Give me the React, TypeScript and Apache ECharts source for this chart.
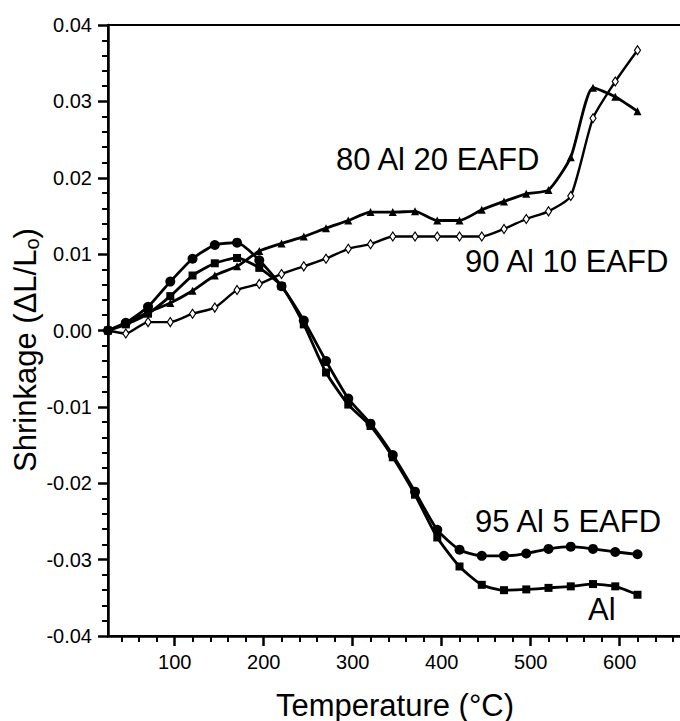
import React, { useEffect, useRef } from 'react';
import * as echarts from 'echarts';

const FONT = '"Liberation Sans", Arial, Helvetica, sans-serif';

// Temperatures (°C) of the measured points
const temps = [25, 45, 70, 95, 120, 145, 170, 195, 220, 245, 270, 295, 320, 345, 370, 395, 420, 445, 470, 495, 520, 545, 570, 595, 620];

// Shrinkage (ΔL/Lo) per composition
const alPure = [0, 0.0008, 0.0022, 0.0045, 0.0072, 0.0088, 0.0095, 0.0082, 0.0058, 0.0008, -0.0055, -0.0097, -0.0125, -0.0166, -0.0215, -0.0271, -0.0309, -0.0333, -0.034, -0.0339, -0.0337, -0.0335, -0.0332, -0.0335, -0.0346];
const al95 = [0, 0.001, 0.0031, 0.0064, 0.0094, 0.0112, 0.0115, 0.0092, 0.0058, 0.0013, -0.004, -0.0089, -0.0122, -0.0163, -0.0211, -0.0261, -0.0287, -0.0295, -0.0295, -0.0292, -0.0286, -0.0283, -0.0286, -0.029, -0.0293];
const al90 = [0, -0.0004, 0.0011, 0.0011, 0.0022, 0.003, 0.0053, 0.0061, 0.0074, 0.0084, 0.0094, 0.0107, 0.0113, 0.0123, 0.0123, 0.0123, 0.0123, 0.0123, 0.0133, 0.0146, 0.0156, 0.0176, 0.0278, 0.0326, 0.0367];
const al80 = [0, 0.001, 0.0024, 0.0036, 0.0052, 0.0072, 0.0084, 0.0104, 0.0114, 0.0123, 0.0134, 0.0144, 0.0155, 0.0155, 0.0156, 0.0144, 0.0144, 0.0158, 0.0169, 0.0179, 0.0184, 0.0227, 0.0318, 0.0306, 0.0287];

// Axis ticks
const xMajorTicks = [100, 200, 300, 400, 500, 600];
const xMinorTicks = [40, 60, 80, 120, 140, 160, 180, 220, 240, 260, 280, 320, 340, 360, 380, 420, 440, 460, 480, 520, 540, 560, 580, 620, 640, 660];

// Curve labels
const labels = [
  { text: '80 Al 20 EAFD', x: 336, y: 159 },
  { text: '90 Al 10 EAFD', x: 465, y: 261 },
  { text: '95 Al 5 EAFD', x: 475, y: 521 },
  { text: 'Al', x: 588, y: 609 },
];

function makeSeries(name: string, vals: number[], symbol: string, size: any, z: number, lineWidth = 2.8, empty = false) {
  return {
    type: 'line',
    name,
    data: temps.map((t, i) => [t, vals[i]]),
    symbol,
    symbolSize: size,
    showSymbol: true,
    smooth: 0.2,
    z,
    silent: true,
    lineStyle: { color: '#000', width: lineWidth },
    itemStyle: empty
      ? { color: '#fff', borderColor: '#000', borderWidth: 1.2 }
      : { color: '#000', borderColor: '#000', borderWidth: 0 },
    emphasis: { disabled: true },
  };
}

export default function App() {
  const ref = useRef<HTMLDivElement>(null);
  useEffect(() => {
    const chart = echarts.init(ref.current!, null, { renderer: 'svg' });
    const axisText = { fontSize: 20, fontFamily: FONT, color: '#000' };
    chart.setOption({
      animation: false,
      backgroundColor: '#fff',
      grid: {
        left: 108, top: 25, width: 574, height: 611,
        containLabel: false, outerBoundsMode: 'none',
        show: true, borderColor: '#000', borderWidth: 2, backgroundColor: 'transparent',
      },
      xAxis: [
        {
          type: 'value', min: 25, max: 670, position: 'bottom',
          axisLine: { show: true, onZero: false, lineStyle: { color: '#000', width: 2.5 } },
          axisTick: { show: true, customValues: xMajorTicks, length: 10, lineStyle: { color: '#000', width: 2.5 } },
          axisLabel: { show: true, customValues: xMajorTicks, margin: 16, ...axisText },
          splitLine: { show: false },
        },
        {
          type: 'value', min: 25, max: 670, position: 'bottom',
          axisLine: { show: false, onZero: false },
          axisTick: { show: true, customValues: xMinorTicks, length: 6, lineStyle: { color: '#000', width: 2 } },
          axisLabel: { show: false },
          splitLine: { show: false },
        },
      ],
      yAxis: {
        type: 'value', min: -0.04, max: 0.04, interval: 0.01,
        axisLine: { show: true, onZero: false, lineStyle: { color: '#000', width: 2.5 } },
        axisTick: { show: true, length: 10, lineStyle: { color: '#000', width: 2.5 } },
        minorTick: { show: true, splitNumber: 5, length: 6, lineStyle: { color: '#000', width: 2 } },
        axisLabel: {
          margin: 16, ...axisText,
          formatter: (v: number) => (Math.abs(v) < 1e-9 ? '0.00' : v.toFixed(2)),
        },
        splitLine: { show: false },
        minorSplitLine: { show: false },
      },
      series: [
        makeSeries('90 Al 10 EAFD', al90, 'diamond', [6, 9], 2, 2.4, true),
        makeSeries('80 Al 20 EAFD', al80, 'triangle', 8, 3),
        makeSeries('Al', alPure, 'rect', 8, 4),
        makeSeries('95 Al 5 EAFD', al95, 'circle', 10, 5),
      ],
      graphic: [
        ...labels.map((l) => ({
          type: 'text', x: l.x, y: l.y, silent: true,
          style: { text: l.text, fontSize: 31, fontFamily: FONT, fill: '#000', align: 'left', verticalAlign: 'middle' },
        })),
        {
          type: 'text', x: 395, y: 705, silent: true,
          style: { text: 'Temperature (°C)', fontSize: 31, fontFamily: FONT, fill: '#000', align: 'center', verticalAlign: 'middle' },
        },
        {
          type: 'text', x: 25, y: 350, rotation: Math.PI / 2, silent: true,
          style: {
            text: 'Shrinkage (ΔL/L{s|o})', fontSize: 31, fontFamily: FONT, fill: '#000',
            align: 'center', verticalAlign: 'middle',
            rich: { s: { fontSize: 20, fontFamily: FONT, fill: '#000', padding: [14, 0, 0, 0] } },
          },
        },
      ],
    });
    return () => chart.dispose();
  }, []);
  return <div ref={ref} style={{ position: 'absolute', left: 0, top: 0, width: 680, height: 721, background: '#fff' }} />;
}
